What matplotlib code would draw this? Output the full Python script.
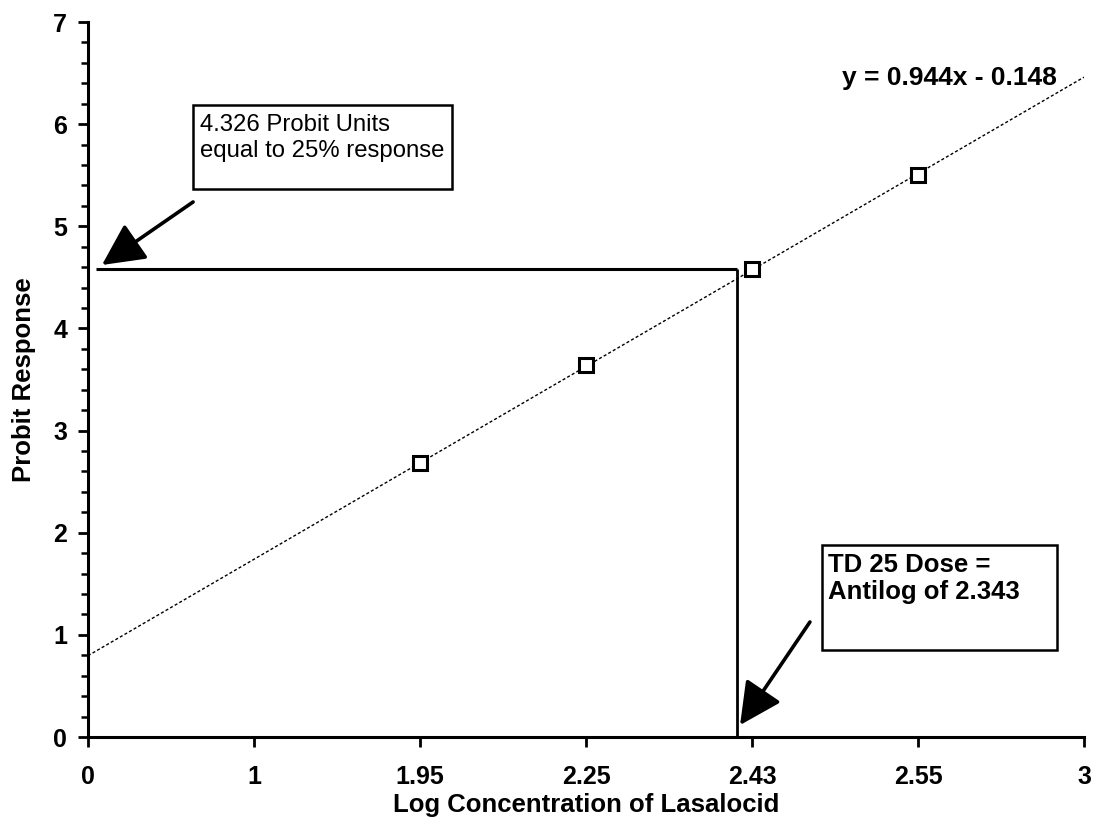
import matplotlib
matplotlib.use("Agg")
import matplotlib.pyplot as plt
from matplotlib.patches import Rectangle, FancyArrowPatch
from matplotlib.ticker import MultipleLocator
import numpy as np

plt.rcParams['font.family'] = ['Liberation Sans', 'DejaVu Sans']

# Category axis: log concentration labels, evenly spaced
categories = ["0", "1", "1.95", "2.25", "2.43", "2.55", "3"]
# Observed probit responses (only the four tested concentrations)
obs_categories = ["1.95", "2.25", "2.43", "2.55"]
probit_values = [2.68, 3.64, 4.58, 5.50]

# Linear trendline over category index (1-based)
slope = 0.944
intercept = -0.148

# Reference guide lines
guide_level = 4.58
guide_x = 3.91

fig = plt.figure(figsize=(10.94, 8.21), dpi=100)
ax = fig.add_axes([88 / 1094, 84 / 821, 996 / 1094, 715 / 821])

pos = np.arange(len(categories))
obs_pos = [categories.index(c) for c in obs_categories]

# trendline
trend = slope * (pos + 1) + intercept
ax.plot(pos, trend, color='black', lw=1.0, linestyle=(0, (2.2, 1.6)), zorder=2)

# data points
ax.plot(obs_pos, probit_values, linestyle='none', marker='s', markersize=10,
        markerfacecolor='white', markeredgecolor='black', markeredgewidth=2.2, zorder=4)

# guide lines
ax.plot([0.05, guide_x], [guide_level, guide_level], color='black', lw=2.2,
        solid_capstyle='butt', zorder=3)
ax.plot([guide_x, guide_x], [0, guide_level], color='black', lw=2.0,
        solid_capstyle='butt', zorder=3)

ax.set_xlim(0, 6)
ax.set_ylim(0, 7)
ax.set_xticks(pos)
ax.set_xticklabels(categories)
ax.yaxis.set_major_locator(MultipleLocator(1))
ax.yaxis.set_minor_locator(MultipleLocator(0.2))

for side in ('top', 'right'):
    ax.spines[side].set_visible(False)
for side in ('left', 'bottom'):
    ax.spines[side].set_linewidth(2.2)

ax.tick_params(axis='x', which='major', direction='out', length=7, width=2.0,
               pad=13, labelsize=18)
ax.tick_params(axis='y', which='major', direction='out', length=7, width=2.0,
               pad=8, labelsize=18)
ax.tick_params(axis='y', which='minor', direction='out', length=5, width=1.8)
for lab in ax.get_xticklabels() + ax.get_yticklabels():
    lab.set_fontweight('bold')

ax.set_xlabel("Log Concentration of Lasalocid", fontsize=18.5, fontweight='bold', labelpad=3)
ax.set_ylabel("Probit Response", fontsize=18.5, fontweight='bold', labelpad=12)

# trendline equation
ax.text(5.19, 6.45, "y = 0.944x - 0.148", fontsize=19, fontweight='bold',
        ha='center', va='center')

# annotation box 1
ax.add_patch(Rectangle((0.633, 5.365), 1.56, 0.823, facecolor='white',
                       edgecolor='black', lw=1.8, zorder=5))
ax.text(0.675, 6.10, "4.326 Probit Units\nequal to 25% response", fontsize=17.2,
        ha='left', va='top', linespacing=1.22, zorder=6)

# annotation box 2
ax.add_patch(Rectangle((4.422, 0.852), 1.415, 1.03, facecolor='white',
                       edgecolor='black', lw=1.8, zorder=5))
ax.text(4.458, 1.80, "TD 25 Dose =\nAntilog of 2.343", fontsize=18.5, fontweight='bold',
        ha='left', va='top', linespacing=1.15, zorder=6)

# arrows
for tail, tip in [((0.633, 5.238), (0.084, 4.621)), ((4.349, 1.126), (3.928, 0.117))]:
    arr = FancyArrowPatch(tail, tip, arrowstyle='-|>,head_length=2.6,head_width=1.3',
                          mutation_scale=10, color='black', lw=2.6,
                          shrinkA=0, shrinkB=0, zorder=6)
    ax.add_patch(arr)

fig.savefig("out.png", dpi=100)
